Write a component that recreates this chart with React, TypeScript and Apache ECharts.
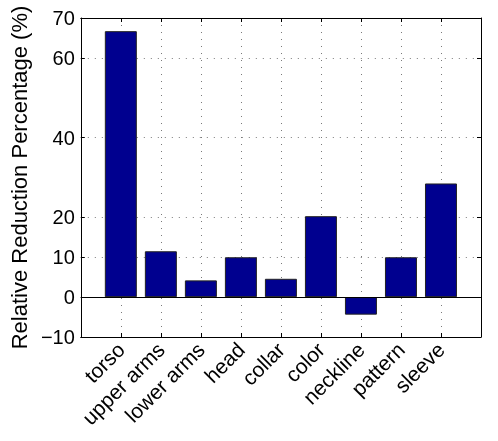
import { useEffect, useRef } from 'react';
import * as echarts from 'echarts';

const categories = ['torso', 'upper arms', 'lower arms', 'head', 'collar', 'color', 'neckline', 'pattern', 'sleeve'];
const reductions = [66.7, 11.5, 4.2, 10.0, 4.6, 20.3, -4.4, 10.0, 28.5];
const yTicks = [-10, 0, 10, 20, 40, 60, 70];
const yTickLabels = ['\u221210', '0', '10', '20', '40', '60', '70'];

export default function App() {
  const ref = useRef<HTMLDivElement>(null);
  useEffect(() => {
    const chart = echarts.init(ref.current!, null, { renderer: 'svg' });
    const positions = categories.map((_, i) => i + 1);
    const font = 'Liberation Sans, Arial, Helvetica, sans-serif';
    const tick = { show: true, inside: true, length: 4, lineStyle: { color: '#000', width: 1 } };
    const gridStyle = { type: [1, 6], color: '#7a7a7a', width: 1 };
    const frame = { show: true, onZero: false, lineStyle: { color: '#000', width: 1 } };
    chart.setOption({
      animation: false,
      grid: { left: 79, right: 17, top: 18, bottom: 104, containLabel: false },
      xAxis: [
        {
          type: 'value', min: 0, max: 10, position: 'bottom',
          axisLine: frame,
          axisTick: { ...tick, customValues: positions },
          axisLabel: {
            customValues: positions, rotate: 45, fontSize: 21, color: '#000', fontFamily: font, margin: 9,
            formatter: (v: number) => categories[Math.round(v) - 1] ?? '',
          },
          splitLine: { show: true, lineStyle: gridStyle },
        },
        {
          type: 'value', min: 0, max: 10, position: 'top',
          axisLine: frame,
          axisTick: { ...tick, customValues: positions },
          axisLabel: { show: false },
          splitLine: { show: false },
        },
      ],
      yAxis: [
        {
          type: 'value', min: -10, max: 70, position: 'left',
          name: 'Relative Reduction Percentage (%)', nameLocation: 'middle', nameGap: 48,
          nameTextStyle: { fontSize: 22, color: '#000', fontFamily: font },
          axisLine: frame,
          axisTick: { ...tick, customValues: yTicks },
          axisLabel: {
            customValues: yTicks, fontSize: 20, color: '#000', fontFamily: font, margin: 6,
            formatter: (v: number) => yTickLabels[yTicks.indexOf(v)] ?? String(v),
          },
          splitLine: { show: true, lineStyle: gridStyle },
        },
        {
          type: 'value', min: -10, max: 70, position: 'right',
          axisLine: frame,
          axisTick: { ...tick, customValues: yTicks },
          axisLabel: { show: false },
          splitLine: { show: false },
        },
      ],
      series: [
        {
          type: 'bar',
          xAxisIndex: 0,
          yAxisIndex: 0,
          barWidth: 32,
          data: reductions.map((v, i) => [positions[i], v]),
          itemStyle: { color: '#00008f', borderColor: '#222', borderWidth: 1 },
          markLine: {
            silent: true, symbol: 'none', label: { show: false },
            lineStyle: { color: '#000', width: 1, type: 'solid' },
            data: [{ yAxis: 0 }],
          },
        },
      ],
    });
    return () => chart.dispose();
  }, []);
  return <div ref={ref} style={{ position: 'fixed', left: 0, top: 0, width: 498, height: 441 }} />;
}
